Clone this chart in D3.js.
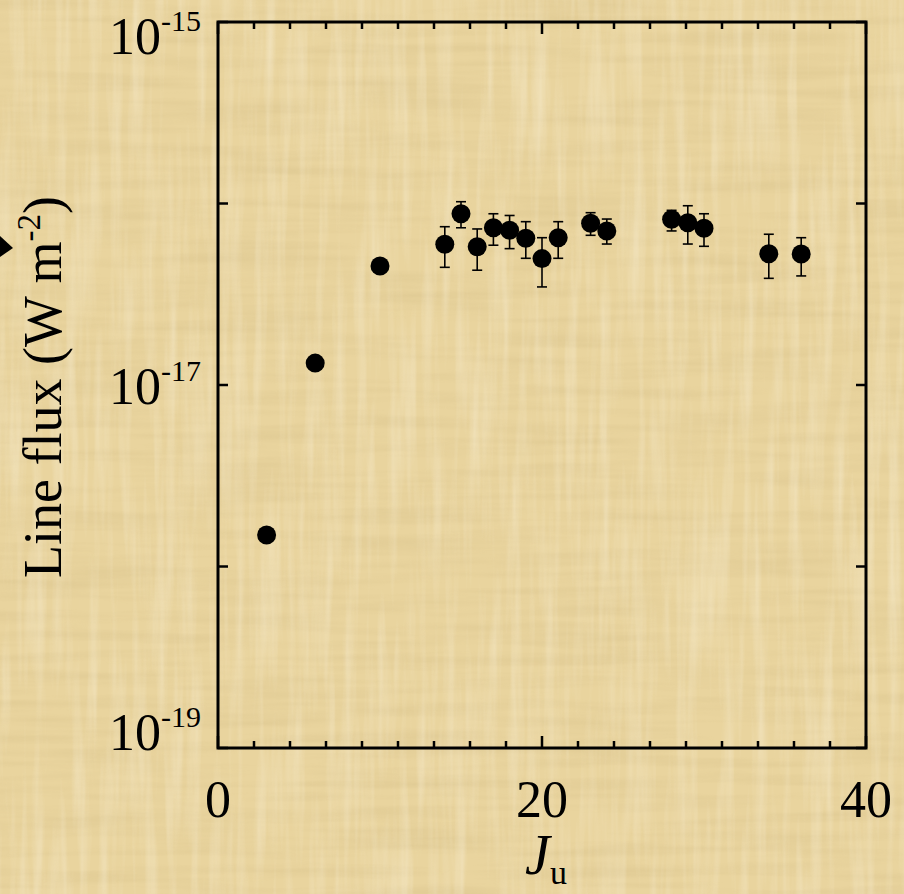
<!DOCTYPE html>
<html>
<head>
<meta charset="utf-8">
<script src="https://cdn.jsdelivr.net/npm/d3@7"></script>
<style>
  html, body { margin: 0; padding: 0; background: #e9d49e; }
  svg { display: block; }
  text { font-family: "Liberation Serif", "Times New Roman", serif; fill: #000; }
</style>
</head>
<body>
<div id="chart"></div>
<script>
// data
const jUpper   = [3, 6, 10, 14, 15, 16, 17, 18, 19, 20, 21, 23, 24, 28, 29, 30, 34, 36];
const lineFlux = [1.49e-18, 1.32e-17, 4.52e-17, 5.96e-17, 8.78e-17, 5.78e-17, 7.35e-17, 7.12e-17, 6.43e-17,
                  4.97e-17, 6.48e-17, 7.78e-17, 7.06e-17, 8.18e-17, 7.84e-17, 7.30e-17, 5.29e-17, 5.27e-17];
const fluxHigh = [null, null, null, 7.45e-17, 1.023e-16, 7.24e-17, 8.78e-17, 8.59e-17, 7.94e-17,
                  6.48e-17, 7.94e-17, 8.90e-17, 8.21e-17, 9.17e-17, 9.72e-17, 8.78e-17, 6.77e-17, 6.48e-17];
const fluxLow  = [null, null, null, 4.45e-17, 7.35e-17, 4.29e-17, 5.89e-17, 5.64e-17, 4.99e-17,
                  3.47e-17, 4.99e-17, 6.68e-17, 5.98e-17, 7.06e-17, 5.98e-17, 5.81e-17, 3.87e-17, 3.99e-17];

const xTicks = [0, 20, 40];
const yTicks = [1e-19, 1e-18, 1e-17, 1e-16, 1e-15];
const yLabelTicks = [1e-19, 1e-17, 1e-15];
const yTickExp = ["-19", "-17", "-15"];

var W = 904, H = 894;
var margin = {top: 22, right: 38, bottom: 146, left: 218},
    width = W - margin.left - margin.right,
    height = H - margin.top - margin.bottom;

var svg = d3.select("#chart").append("svg")
  .attr("width", W)
  .attr("height", H);

// parchment background
var defs = svg.append("defs");
var f1 = defs.append("filter").attr("id", "fibreH").attr("x", 0).attr("y", 0).attr("width", 1).attr("height", 1);
f1.append("feTurbulence").attr("type", "fractalNoise").attr("baseFrequency", "0.006 0.09").attr("numOctaves", 3).attr("seed", 4);
f1.append("feColorMatrix").attr("type", "matrix")
  .attr("values", "0 0 0 0 0.62  0 0 0 0 0.48  0 0 0 0 0.22  1.6 0 0 0 -0.62");
var f2 = defs.append("filter").attr("id", "fibreV").attr("x", 0).attr("y", 0).attr("width", 1).attr("height", 1);
f2.append("feTurbulence").attr("type", "fractalNoise").attr("baseFrequency", "0.09 0.006").attr("numOctaves", 3).attr("seed", 9);
f2.append("feColorMatrix").attr("type", "matrix")
  .attr("values", "0 0 0 0 1  0 0 0 0 0.96  0 0 0 0 0.85  1.6 0 0 0 -0.66");

svg.append("rect").attr("width", W).attr("height", H).attr("fill", "#e9d49e");
svg.append("rect").attr("width", W).attr("height", H).attr("filter", "url(#fibreH)").attr("opacity", 0.35);
svg.append("rect").attr("width", W).attr("height", H).attr("filter", "url(#fibreV)").attr("opacity", 0.4);

// arrow tip poking in from the left edge
svg.append("path")
  .attr("d", "M0,236 L13,248 L0,257 Z")
  .attr("fill", "#000");

var x = d3.scaleLinear().domain([0, 40]).range([margin.left, margin.left + width]);
var y = d3.scaleLog().domain([1e-19, 1e-15]).range([margin.top + height, margin.top]);

var x0 = x.range()[0], x1 = x.range()[1], y0 = y.range()[0], y1 = y.range()[1];

// ticks (inward, on all four sides)
var xMinor = d3.range(1, 18).filter(i => i !== 9).map(i => i * 40 / 18);
var tickG = svg.append("g").attr("stroke", "#000").attr("stroke-width", 2.5);
xMinor.forEach(v => {
  tickG.append("line").attr("x1", x(v)).attr("x2", x(v)).attr("y1", y0).attr("y2", y0 - 7);
  tickG.append("line").attr("x1", x(v)).attr("x2", x(v)).attr("y1", y1).attr("y2", y1 + 7);
});
xTicks.forEach(v => {
  tickG.append("line").attr("x1", x(v)).attr("x2", x(v)).attr("y1", y0).attr("y2", y0 - 12);
  tickG.append("line").attr("x1", x(v)).attr("x2", x(v)).attr("y1", y1).attr("y2", y1 + 12);
});
yTicks.forEach(v => {
  tickG.append("line").attr("x1", x0).attr("x2", x0 + 10).attr("y1", y(v)).attr("y2", y(v));
  tickG.append("line").attr("x1", x1).attr("x2", x1 - 10).attr("y1", y(v)).attr("y2", y(v));
});

// frame
svg.append("rect")
  .attr("x", x0).attr("y", y1)
  .attr("width", x1 - x0).attr("height", y0 - y1)
  .attr("fill", "none").attr("stroke", "#000").attr("stroke-width", 3);

// x tick labels
svg.selectAll(".xlab").data(xTicks).join("text")
  .attr("class", "xlab")
  .attr("x", d => x(d))
  .attr("y", y0 + 69)
  .attr("text-anchor", "middle")
  .style("font-size", "52px")
  .text(d => d);

// y tick labels, kept inside the frame height
yLabelTicks.forEach((v, i) => {
  var base = Math.max(y1 + 32, Math.min(y0 + 2, y(v) + 19));
  var t = svg.append("text")
    .attr("x", x0 - 17)
    .attr("y", base)
    .attr("text-anchor", "end")
    .style("font-size", "52px");
  t.append("tspan").text("10");
  t.append("tspan").attr("dy", -23).style("font-size", "30px").text(yTickExp[i]);
});

// axis titles
var yl = svg.append("text")
  .attr("transform", `translate(61,${(y0 + y1) / 2 + 2}) rotate(-90)`)
  .attr("text-anchor", "middle")
  .style("font-size", "54px");
yl.append("tspan").text("Line flux (W m");
yl.append("tspan").attr("dy", -21).style("font-size", "33px").text("-2");
yl.append("tspan").attr("dy", 21).text(")");

var xl = svg.append("text")
  .attr("x", (x0 + x1) / 2 + 4)
  .attr("y", 874)
  .attr("text-anchor", "middle")
  .style("font-size", "56px");
xl.append("tspan").style("font-style", "italic").text("J");
xl.append("tspan").attr("dy", 10).style("font-size", "34px").text("u");

// data
var pts = jUpper.map((j, i) => ({j: j, f: lineFlux[i], hi: fluxHigh[i], lo: fluxLow[i]}));

var eb = svg.append("g").attr("stroke", "#000").attr("stroke-width", 1.6);
pts.filter(d => d.hi !== null).forEach(d => {
  eb.append("line").attr("x1", x(d.j)).attr("x2", x(d.j)).attr("y1", y(d.hi)).attr("y2", y(d.lo));
  eb.append("line").attr("x1", x(d.j) - 5).attr("x2", x(d.j) + 5).attr("y1", y(d.hi)).attr("y2", y(d.hi));
  eb.append("line").attr("x1", x(d.j) - 5).attr("x2", x(d.j) + 5).attr("y1", y(d.lo)).attr("y2", y(d.lo));
});

svg.selectAll(".pt").data(pts).join("circle")
  .attr("class", "pt")
  .attr("cx", d => x(d.j))
  .attr("cy", d => y(d.f))
  .attr("r", 9.5)
  .attr("fill", "#000");
</script>
</body>
</html>
